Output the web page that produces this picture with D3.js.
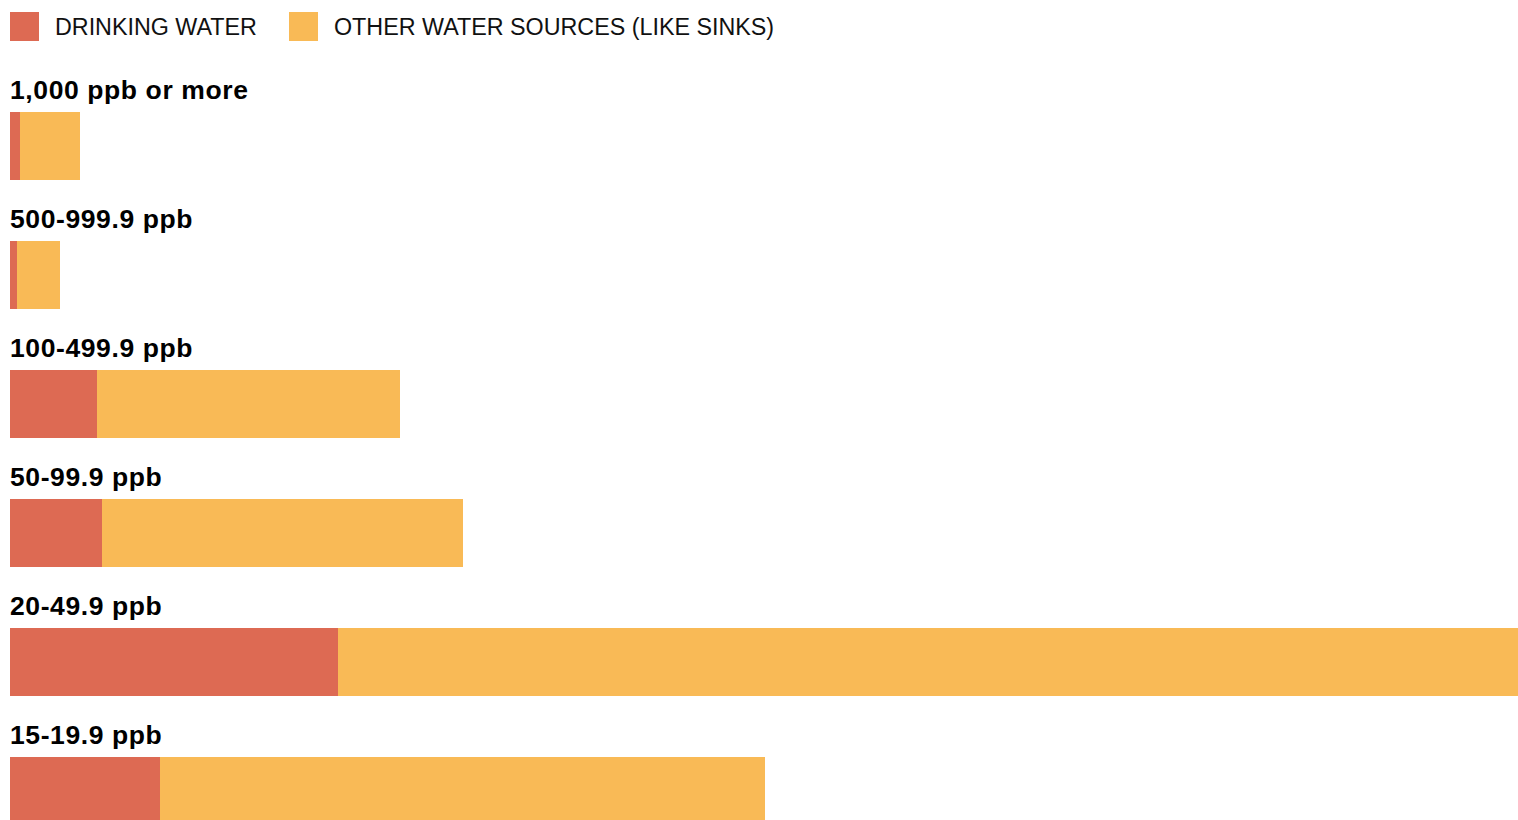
<!DOCTYPE html>
<html>
<head>
<meta charset="utf-8">
<script src="https://cdn.jsdelivr.net/npm/d3@7"></script>
<style>
  html, body { margin: 0; padding: 0; background: #fff; overflow: hidden; }
  svg { display: block; font-family: "Liberation Sans", Arial, Helvetica, sans-serif; }
</style>
</head>
<body>
<div id="chart"></div>
<script>
// lead level ranges, top to bottom
const categories = ["1,000 ppb or more", "500-999.9 ppb", "100-499.9 ppb", "50-99.9 ppb", "20-49.9 ppb", "15-19.9 ppb"];
// series values
const drinking = [10, 7, 87, 92, 328, 150];
const other = [60, 43, 303, 361, 1180, 605];
const seriesKeys = ["drinking", "other"];
const seriesLabels = ["DRINKING WATER", "OTHER WATER SOURCES (LIKE SINKS)"];

const red = "#dd6a53",
  orange = "#f9ba56";

const w = 1518;
const h = 820;
const left = 10;

const rows = categories.map((c, i) => ({ cat: c, drinking: drinking[i], other: other[i] }));
const stacked = d3.stack().keys(seriesKeys)(rows);

const xScale = d3
  .scaleLinear()
  .domain([0, d3.max(rows, (d) => d.drinking + d.other)])
  .range([left, w]);

// each row = label + bar, 129px apart
const yScale = d3
  .scaleBand()
  .domain(categories)
  .range([83, 83 + 129 * categories.length]);

const color = d3.scaleOrdinal().domain(seriesKeys).range([red, orange]);

const svg = d3
  .select("#chart")
  .append("svg")
  .attr("width", w)
  .attr("height", h);

// legend
const legend = svg.append("g").attr("class", "legend");
const legendX = [10, 289];
seriesKeys.forEach((k, i) => {
  legend
    .append("rect")
    .attr("x", legendX[i])
    .attr("y", 12)
    .attr("width", 29)
    .attr("height", 29)
    .attr("fill", color(k));
  legend
    .append("text")
    .attr("x", legendX[i] + 45)
    .attr("y", 35)
    .attr("font-size", "23.3px")
    .attr("fill", "#111")
    .text(seriesLabels[i]);
});

// category labels
svg
  .selectAll("text.label")
  .data(categories)
  .enter()
  .append("text")
  .attr("class", "label")
  .attr("x", left)
  .attr("y", (d) => yScale(d) + 16)
  .attr("font-size", "26.5px")
  .attr("font-weight", "bold")
  .attr("letter-spacing", "0.6px")
  .attr("fill", "#000")
  .text((d) => d);

// stacked bars
svg
  .selectAll("g.series")
  .data(stacked)
  .enter()
  .append("g")
  .attr("class", "series")
  .attr("fill", (d) => color(d.key))
  .selectAll("rect")
  .data((d) => d)
  .enter()
  .append("rect")
  .attr("x", (d) => xScale(d[0]))
  .attr("y", (d) => yScale(d.data.cat) + 29)
  .attr("width", (d) => xScale(d[1]) - xScale(d[0]))
  .attr("height", 68);
</script>
</body>
</html>
